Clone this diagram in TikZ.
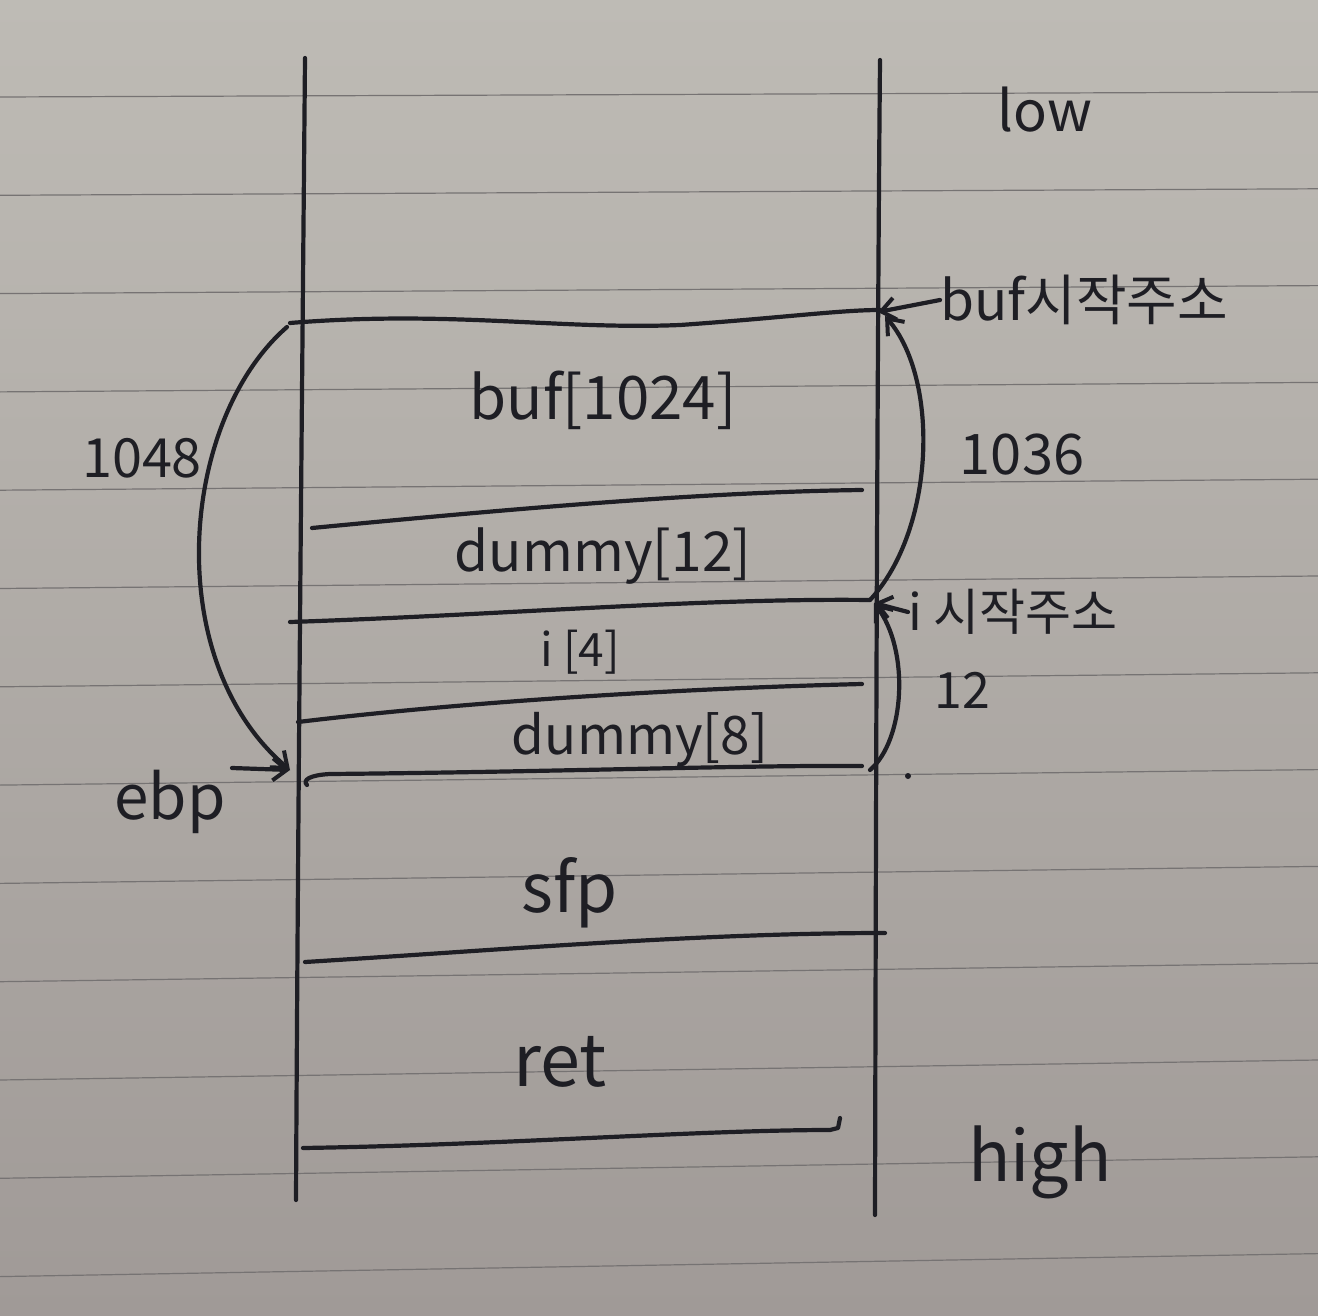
\documentclass[tikz,border=0pt]{standalone}
\usepackage{fontspec}
\setmainfont{Noto Sans CJK KR}
\usetikzlibrary{arrows.meta}
\definecolor{ink}{RGB}{30,30,36}
\definecolor{paperTop}{RGB}{190,187,181}
\definecolor{paperBot}{RGB}{160,154,151}
\definecolor{rulec}{RGB}{118,115,115}
\newcommand{\hsz}[1]{\fontsize{#1}{#1}\selectfont}
\begin{document}
\begin{tikzpicture}[x=1pt,y=-1pt,
  inkline/.style={draw=ink, line width=4.2pt, line cap=round, line join=round},
  lbl/.style={text=ink, inner sep=0pt, anchor=center},
  arr/.style={inkline, -{Straight Barb[length=14pt,width=22pt,line width=4pt]}}]
\shade[top color=paperTop, bottom color=paperBot] (0,0) rectangle (1318,1316);
\useasboundingbox (0,0) rectangle (1318,1316);
% notebook ruling
\foreach \k in {-1,...,12}
  \draw[rulec, line width=1.2pt] (0,{97+98.3*\k}) -- (1318,{92+96.8*\k});

% frame of the stack
\coordinate (LT) at (305,58);
\coordinate (LB) at (296,1200);
\coordinate (RT) at (880,60);
\coordinate (RB) at (875,1215);
\draw[inkline] (LT) .. controls (302,400) and (298,800) .. (LB);
\draw[inkline] (RT) .. controls (877,400) and (876,800) .. (RB);

% boundaries
\coordinate (b1l) at (290,323); \coordinate (b1r) at (880,310);
\coordinate (b2l) at (312,528); \coordinate (b2r) at (862,490);
\coordinate (b3l) at (290,622); \coordinate (b3r) at (870,600);
\coordinate (b4l) at (298,722); \coordinate (b4r) at (862,684);
\coordinate (b5l) at (307,785); \coordinate (b5r) at (862,766);
\coordinate (b6l) at (305,962); \coordinate (b6r) at (885,933);
\coordinate (b7l) at (303,1148); \coordinate (b7r) at (838,1128);
\draw[inkline] (b1l) .. controls (450,310) and (560,330) .. (680,325) .. controls (780,318) and (840,310) .. (b1r);
\draw[inkline] (b2l) .. controls (500,510) and (700,492) .. (b2r);
\draw[inkline] (b3l) .. controls (500,615) and (700,598) .. (b3r);
\draw[inkline] (b4l) .. controls (480,700) and (700,688) .. (b4r);
\draw[inkline] (b5l) .. controls (302,780) and (310,775) .. (330,774) .. controls (550,772) and (750,765) .. (b5r);
\draw[inkline] (b6l) .. controls (500,950) and (700,933) .. (b6r);
\draw[inkline] (b7l) .. controls (500,1145) and (700,1130) .. (830,1130) -- (b7r) -- (840,1118);

% labels
\node[lbl] (low) at (1045,110) {\hsz{56}low};
\node[lbl, anchor=west] (bufaddr) at (940,300) {\hsz{55}buf시작주소};
\node[lbl] (buf) at (603,400) {\hsz{60}buf[1024]};
\node[lbl] (n1036) at (1022,455) {\hsz{56}1036};
\node[lbl] (dummy12) at (603,556) {\hsz{55}dummy[12]};
\node[lbl, anchor=west] (iaddr) at (908,612) {\hsz{50}i 시작주소};
\node[lbl] (i4) at (580,652) {\hsz{46}i [4]};
\node[lbl] (n12) at (962,690) {\hsz{50}12};
\node[lbl] (dummy8) at (640,740) {\hsz{53}dummy[8]};
\node[lbl] (n1048) at (142,458) {\hsz{54}1048};
\node[lbl] (ebp) at (170,802) {\hsz{62}ebp};
\node[lbl] (sfp) at (570,893) {\hsz{68}sfp};
\node[lbl] (ret) at (560,1062) {\hsz{72}ret};
\node[lbl] (high) at (1040,1162) {\hsz{70}high};

% pointers
\coordinate (bufstart) at (878,312);
\coordinate (istart) at (874,603);
\coordinate (ebpat) at (290,770);
\coordinate (ebptail) at (232,768);
\draw[arr] (bufaddr.west) -- (bufstart);
\draw[arr] (iaddr.west) -- (istart);
\draw[arr] (ebptail) -- (ebpat);

% size arcs
\draw[arr] (b3r) .. controls (935,530) and (940,380) .. (885,316);
\draw[arr] (870,770) .. controls (905,740) and (910,650) .. (istart);
\draw[arr] (287,327) .. controls (180,420) and (160,660) .. (ebpat);
\fill[ink] (908,776) circle (3pt);
\end{tikzpicture}
\end{document}
